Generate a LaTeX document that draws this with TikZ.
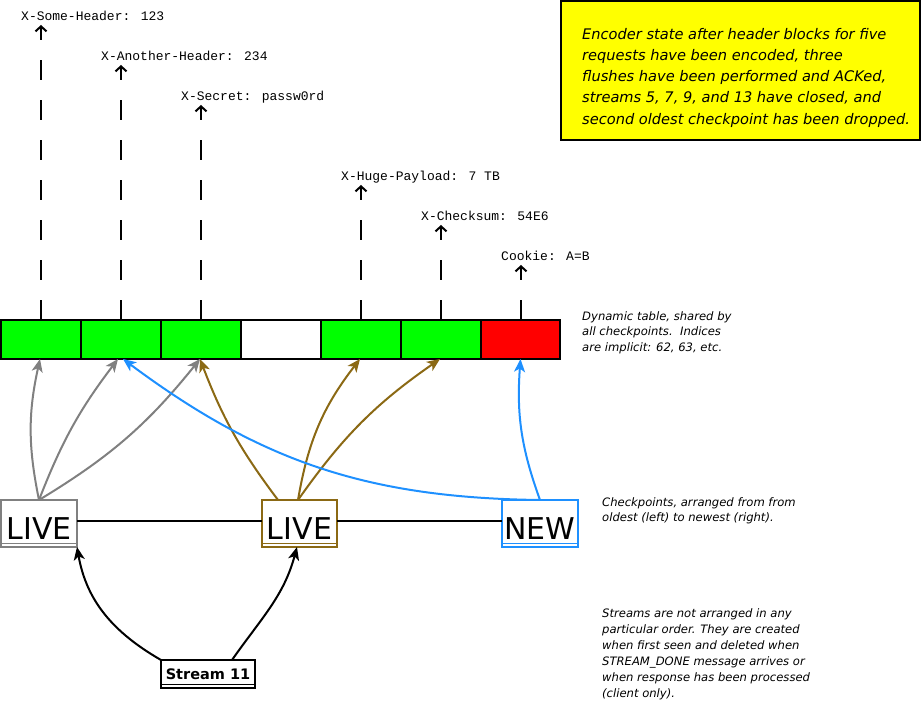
\documentclass[tikz,border=0pt]{standalone}
\usepackage{fontspec}
\setmainfont{DejaVu Sans}
\newfontfamily\monofont{Liberation Mono}
\usetikzlibrary{arrows.meta}
\definecolor{cgray}{HTML}{808080}
\definecolor{cbrown}{HTML}{8B6914}
\definecolor{cblue}{HTML}{1E90FF}
\definecolor{cgreen}{HTML}{00FF00}
\definecolor{cred}{HTML}{FF0000}
\definecolor{cyellow}{HTML}{FFFF00}
\begin{document}
\begin{tikzpicture}[x=1pt,y=1pt,
  cell/.style={draw=black, line width=2pt, minimum width=80pt, minimum height=39pt, inner sep=0pt, outer sep=0pt},
  hdr/.style={font=\monofont\fontsize{13}{13}\selectfont, inner sep=0pt, anchor=base west},
  hline/.style={line width=2pt, dash pattern=on 20pt off 20pt, -{Straight Barb[length=5pt,width=11pt]}},
  ckpt/.style={draw, line width=2pt, fill=white, minimum width=76pt, minimum height=47pt, inner sep=0pt, outer sep=0pt, font=\fontsize{30}{30}\selectfont, text height=33pt, text depth=0pt},
  ref/.style={line width=2pt, -{Stealth[length=13pt,width=11pt,inset=3.5pt]}},
  note/.style={font=\itshape\fontsize{11.6}{15.5}\selectfont, align=left, anchor=north west, inner sep=0pt},
  dbl/.style={line width=1.6pt},
]
\useasboundingbox (0,0) rectangle (922,702);

% yellow caption
\node[draw=black, line width=2.5pt, fill=cyellow, minimum width=359pt, minimum height=139pt, inner sep=0pt] (cap) at (740.5,631.5) {};
\node[font=\itshape\fontsize{14.6}{21.2}\selectfont, align=left, anchor=north west, inner sep=0pt] (captext) at (582,674)
 {Encoder state after header blocks for five\\
  requests have been encoded, three\\
  flushes have been performed and ACKed,\\
  streams 5, 7, 9, and 13 have closed, and\\
  second oldest checkpoint has been dropped.};

% dynamic table
\node[cell, fill=cgreen] (c1) at (41,362.5) {};
\node[cell, fill=cgreen] (c2) at (121,362.5) {};
\node[cell, fill=cgreen] (c3) at (201,362.5) {};
\node[cell, fill=white]  (c4) at (281,362.5) {};
\node[cell, fill=cgreen] (c5) at (361,362.5) {};
\node[cell, fill=cgreen] (c6) at (441,362.5) {};
\node[cell, fill=cred, minimum width=79pt] (c7) at (520.5,362.5) {};

% header labels
\node[hdr] (h1) at (21,681.5) {X-Some-Header: 123};
\node[hdr] (h2) at (101,641.5) {X-Another-Header: 234};
\node[hdr] (h3) at (181,601.5) {X-Secret: passw0rd};
\node[hdr] (h5) at (341,521.5) {X-Huge-Payload: 7 TB};
\node[hdr] (h6) at (421,481.5) {X-Checksum: 54E6};
\node[hdr] (h7) at (501,441.5) {Cookie: A=B};
\coordinate (t1) at (41,677);
\coordinate (t2) at (121,637);
\coordinate (t3) at (201,597);
\coordinate (t5) at (361,517);
\coordinate (t6) at (441,477);
\coordinate (t7) at (521,437);
\draw[hline] (c1.north) -- (t1);
\draw[hline] (c2.north) -- (t2);
\draw[hline] (c3.north) -- (t3);
\draw[hline] (c5.north) -- (t5);
\draw[hline] (c6.north) -- (t6);
\draw[hline] ([xshift=0.5pt]c7.north) -- (t7);

% notes
\node[note] (n1) at (582,391) {Dynamic table, shared by\\all checkpoints.\ \ Indices\\are implicit: 62, 63, etc.};
\node[note] (n2) at (602,205) {Checkpoints, arranged from from\\oldest (left) to newest (right).};
\node[note, font=\itshape\fontsize{11.6}{16}\selectfont] (n3) at (602,94) {Streams are not arranged in any\\particular order. They are created\\when first seen and deleted when\\STREAM\_DONE message arrives or\\when response has been processed\\(client only).};

% checkpoints
\node[ckpt, draw=cgray] (live1) at (39,178.5) {LIVE};
\node[ckpt, draw=cbrown, minimum width=75pt] (live2) at (299.5,178.5) {LIVE};
\node[ckpt, draw=cblue] (new) at (540,178.5) {NEW};
\draw[dbl, cgray] ([yshift=3.5pt]live1.south west) -- ([yshift=3.5pt]live1.south east);
\draw[dbl, cbrown] ([yshift=3.5pt]live2.south west) -- ([yshift=3.5pt]live2.south east);
\draw[dbl, cblue] ([yshift=3.5pt]new.south west) -- ([yshift=3.5pt]new.south east);
\draw[line width=2pt] ([yshift=2pt]live1.east) -- ([yshift=2pt]live2.west);
\draw[line width=2pt] ([yshift=2pt]live2.east) -- ([yshift=2pt]new.west);

% stream
\node[draw=black, line width=2pt, fill=white, minimum width=94pt, minimum height=28pt, inner sep=0pt, outer sep=0pt, font=\bfseries\fontsize{14.5}{14.5}\selectfont] (stream) at (208,28) {Stream 11};
\draw[dbl] ([yshift=3.5pt]stream.south west) -- ([yshift=3.5pt]stream.south east);

% references to table
\draw[ref, cgray] (live1.north) to[bend left=12] ([xshift=-1pt]c1.south);
\draw[ref, cgray] (live1.north) to[bend left=8] ([xshift=-3pt]c2.south);
\draw[ref, cgray] (live1.north) to[bend right=10] ([xshift=-1pt]c3.south);
\draw[ref, cbrown] ([xshift=-21.5pt]live2.north) to[bend left=8] ([xshift=-1pt]c3.south);
\draw[ref, cbrown] ([xshift=-1.5pt]live2.north) to[bend left=14] ([xshift=-1pt]c5.south);
\draw[ref, cbrown] ([xshift=-1.5pt]live2.north) to[bend left=10] ([xshift=-1pt]c6.south);
\draw[ref, cblue] (new.north) to[bend left=12] (c7.south);
\draw[ref, cblue] (new.north) to[bend left=18] ([xshift=2pt]c2.south);

% stream to checkpoints
\draw[ref, black] (stream.north west) to[out=150,in=-80] (live1.south east);
\draw[ref, black] ([xshift=24pt]stream.north) to[out=55,in=-105] ([xshift=-2.5pt]live2.south);
\end{tikzpicture}
\end{document}
